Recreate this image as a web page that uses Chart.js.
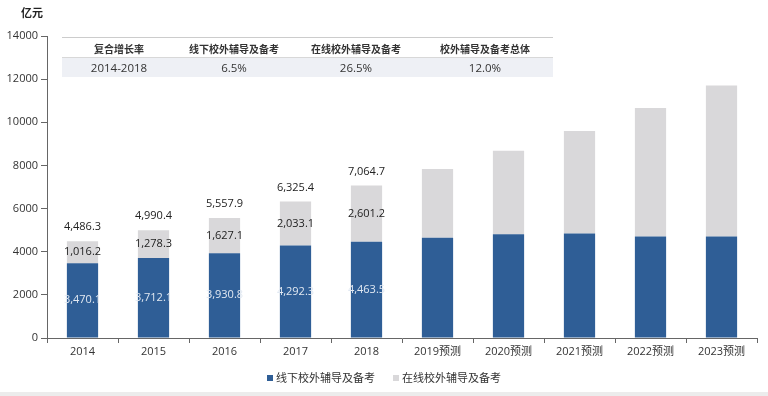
<!DOCTYPE html>
<html>
<head>
<meta charset="utf-8">
<script src="https://cdn.jsdelivr.net/npm/chart.js@4"></script>
<style>
body { margin: 0; background: #fff; font-family: 'Open Sans', 'Noto Sans CJK SC', sans-serif; }
#wrap { position: relative; width: 768px; height: 396px; }
#unit { position: absolute; left: 21px; top: 4px; font-size: 11px; font-weight: bold; color: #222; }
#tbl { position: absolute; left: 62px; top: 37px; width: 491px; height: 39px; border-top: 1px solid #ccc; }
#tbl .hdr { position: absolute; left: 0; top: 0; width: 100%; height: 19px; border-bottom: 1px solid #d8d8d8; }
#tbl .row { position: absolute; left: 0; top: 20px; width: 100%; height: 19px; background: #eef0f5; }
#tbl span { position: absolute; transform: translateX(-50%); white-space: nowrap; }
#tbl .hdr span { top: 3px; font-size: 10px; font-weight: bold; color: #333; }
#tbl .row span { top: 2px; font-size: 11.5px; color: #333; }
#legend { position: absolute; left: 0; top: 369px; width: 768px; text-align: center; font-size: 11px; color: #333; font-family: 'Noto Sans CJK SC', sans-serif; line-height: 16px; }
#legend .item { display: inline-block; margin: 0 9px; }
#legend .box { display: inline-block; width: 6px; height: 6px; margin-right: 3px; vertical-align: 1px; }
#foot { position: absolute; left: 0; bottom: 0; width: 768px; height: 4px; background: #ececec; }
</style>
</head>
<body>
<div id="wrap">
<canvas id="barChart" width="768" height="396"></canvas>
<div id="unit">亿元</div>
<div id="tbl"></div>
<div id="legend"></div>
<div id="foot"></div>
</div>
<script>
var years = ["2014", "2015", "2016", "2017", "2018", "2019预测", "2020预测", "2021预测", "2022预测", "2023预测"];
var offline = [3470.1, 3712.1, 3930.8, 4292.3, 4463.5, 4650, 4810, 4850, 4700, 4700];
var online = [1016.2, 1278.3, 1627.1, 2033.1, 2601.2, 3180, 3870, 4750, 5960, 7010];
var totals = [4486.3, 4990.4, 5557.9, 6325.4, 7064.7];
var labeledCount = 5;

var tableHead = ["复合增长率", "线下校外辅导及备考", "在线校外辅导及备考", "校外辅导及备考总体"];
var tableRow = ["2014-2018", "6.5%", "26.5%", "12.0%"];
var colCenters = [57, 172, 294, 423];

// table over the chart
var tbl = document.getElementById("tbl");
var hdr = document.createElement("div"); hdr.className = "hdr";
var row = document.createElement("div"); row.className = "row";
for (var i = 0; i < tableHead.length; i++) {
  var s1 = document.createElement("span"); s1.textContent = tableHead[i]; s1.style.left = colCenters[i] + "px"; hdr.appendChild(s1);
  var s2 = document.createElement("span"); s2.textContent = tableRow[i]; s2.style.left = colCenters[i] + "px"; row.appendChild(s2);
}
tbl.appendChild(hdr); tbl.appendChild(row);

function fmt(v) {
  return v.toLocaleString("en-US", {minimumFractionDigits: 1, maximumFractionDigits: 1});
}

var valueLabels = {
  id: "valueLabels",
  afterDatasetsDraw: function(chart) {
    var ctx = chart.ctx;
    ctx.save();
    ctx.font = "11px 'Open Sans', sans-serif";
    ctx.textAlign = "center";
    ctx.textBaseline = "middle";
    var m0 = chart.getDatasetMeta(0), m1 = chart.getDatasetMeta(1);
    for (var i = 0; i < labeledCount; i++) {
      var b0 = m0.data[i], b1 = m1.data[i];
      ctx.fillStyle = "#e2e9f2";
      ctx.fillText(fmt(offline[i]), b0.x, (b0.y + b0.base) / 2);
      ctx.fillStyle = "#222";
      ctx.fillText(fmt(online[i]), b1.x, (b1.y + b1.base) / 2);
      ctx.fillText(fmt(totals[i]), b1.x, b1.y - 14);
    }
    ctx.restore();
  }
};

var ctx = document.getElementById("barChart").getContext("2d");
var myBarChart = new Chart(ctx, {
  type: "bar",
  data: {
    labels: years,
    datasets: [{
      label: "线下校外辅导及备考",
      data: offline,
      backgroundColor: "#2f5e96"
    }, {
      label: "在线校外辅导及备考",
      data: online,
      backgroundColor: "#d9d8da"
    }]
  },
  options: {
    responsive: false,
    animation: false,
    layout: { padding: { top: 36, right: 11, bottom: 30, left: 0 } },
    datasets: { bar: { barPercentage: 0.44, categoryPercentage: 1 } },
    scales: {
      x: {
        stacked: true,
        grid: { offset: true, drawOnChartArea: false, tickLength: 5, color: "#666" },
        border: { color: "#666" },
        ticks: { color: "#333", font: { size: 11, family: "'Open Sans', 'Noto Sans CJK SC'" }, padding: 2, maxRotation: 0 },
        afterFit: function(s) { s.height = 28; }
      },
      y: {
        stacked: true,
        min: 0, max: 14000,
        grid: { drawOnChartArea: false, tickLength: 6, color: "#666" },
        border: { color: "#666" },
        ticks: { stepSize: 2000, color: "#333", font: { size: 11, family: "'Open Sans'" }, padding: 3,
          callback: function(v) { return String(v); } },
        afterFit: function(s) { s.width = 47; }
      }
    },
    plugins: {
      tooltip: { enabled: false },
      legend: { display: false }
    }
  },
  plugins: [valueLabels]
});

// legend from the chart's datasets
var legend = document.getElementById("legend");
myBarChart.data.datasets.forEach(function(ds) {
  var item = document.createElement("span"); item.className = "item";
  var box = document.createElement("span"); box.className = "box"; box.style.background = ds.backgroundColor;
  item.appendChild(box);
  item.appendChild(document.createTextNode(ds.label));
  legend.appendChild(item);
});
</script>
</body>
</html>
